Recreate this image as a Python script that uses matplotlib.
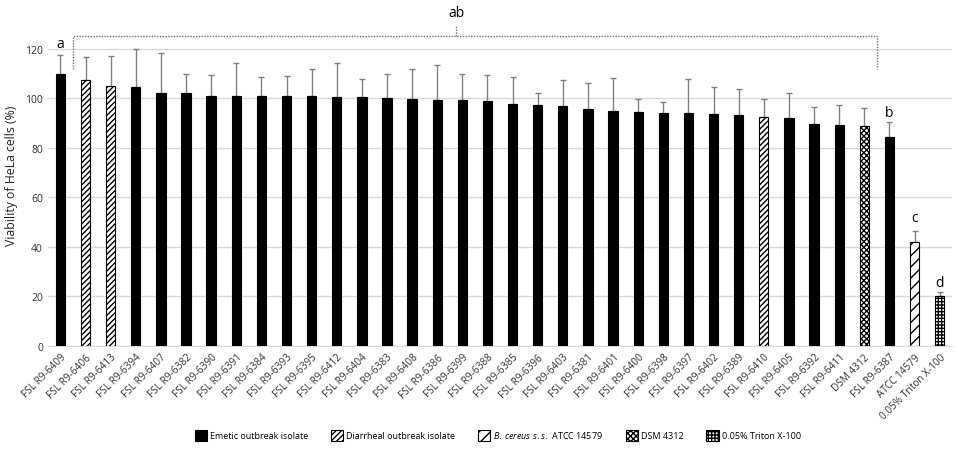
import matplotlib
matplotlib.use("Agg")
import matplotlib.pyplot as plt
import numpy as np
from matplotlib.patches import Patch

plt.rcParams['font.family'] = ['Open Sans', 'DejaVu Sans']
plt.rcParams['mathtext.fontset'] = 'custom'
plt.rcParams['mathtext.it'] = 'Open Sans:italic'
plt.rcParams['hatch.linewidth'] = 1.0

# data
strains = ['FSL R9-6409', 'FSL R9-6406', 'FSL R9-6413', 'FSL R9-6394', 'FSL R9-6407',
           'FSL R9-6382', 'FSL R9-6390', 'FSL R9-6391', 'FSL R9-6384', 'FSL R9-6393',
           'FSL R9-6395', 'FSL R9-6412', 'FSL R9-6404', 'FSL R9-6383', 'FSL R9-6408',
           'FSL R9-6386', 'FSL R9-6399', 'FSL R9-6388', 'FSL R9-6385', 'FSL R9-6396',
           'FSL R9-6403', 'FSL R9-6381', 'FSL R9-6401', 'FSL R9-6400', 'FSL R9-6398',
           'FSL R9-6397', 'FSL R9-6402', 'FSL R9-6389', 'FSL R9-6410', 'FSL R9-6405',
           'FSL R9-6392', 'FSL R9-6411', 'DSM 4312', 'FSL R9-6387', 'ATCC 14579',
           '0.05% Triton X-100']
viability = [109.8, 107.3, 105.0, 104.6, 102.0, 102.0, 101.0, 101.0, 101.0, 101.0,
             100.8, 100.5, 100.5, 100.1, 99.8, 99.2, 99.2, 98.7, 97.7, 97.4,
             96.8, 95.5, 94.9, 94.6, 94.2, 94.2, 93.6, 93.3, 92.6, 92.2,
             89.4, 89.2, 88.6, 84.2, 42.0, 20.3]
err_top = [117.6, 116.5, 117.2, 119.7, 118.1, 109.8, 109.4, 114.0, 108.5, 108.9,
           111.7, 114.2, 107.9, 109.8, 111.7, 113.3, 109.8, 109.3, 108.7, 102.2,
           107.5, 106.1, 108.0, 99.7, 98.6, 107.8, 104.5, 103.6, 99.7, 101.9,
           96.5, 97.1, 96.2, 90.2, 46.3, 21.7]
group = ['E', 'D', 'D', 'E', 'E', 'E', 'E', 'E', 'E', 'E',
         'E', 'E', 'E', 'E', 'E', 'E', 'E', 'E', 'E', 'E',
         'E', 'E', 'E', 'E', 'E', 'E', 'E', 'E', 'D', 'E',
         'E', 'E', 'S', 'E', 'B', 'T']
group_names = {
    'E': 'Emetic outbreak isolate',
    'D': 'Diarrheal outbreak isolate',
    'B': r'$\it{B.\,cereus\ s.s.}$ ATCC 14579',
    'S': 'DSM 4312',
    'T': '0.05% Triton X-100',
}
letters = ['a', 'b', 'c', 'd']
letter_bars = [0, 33, 34, 35]
letter_y = [122.0, 94.3, 51.9, 25.5]

styles = {
    'E': dict(facecolor='black', hatch=None),
    'D': dict(facecolor='white', hatch='//////'),
    'B': dict(facecolor='white', hatch='///'),
    'S': dict(facecolor='white', hatch='xxxxxx'),
    'T': dict(facecolor='white', hatch='+++++'),
}

fig = plt.figure(figsize=(9.57, 4.56), dpi=100)
ax = fig.add_axes([0.050, 0.239, 0.945, 0.75])

x = np.arange(len(strains))
vals = np.array(viability)
up = np.array(err_top) - vals

for g in ['E', 'D', 'B', 'S', 'T']:
    idx = [i for i, k in enumerate(group) if k == g]
    ax.bar(x[idx], vals[idx], width=0.37, edgecolor='black', linewidth=0.8,
           zorder=3, **styles[g])

ax.errorbar(x, vals, yerr=[np.zeros_like(up), up], fmt='none', ecolor='#808080',
            elinewidth=1.0, capsize=2, capthick=1.0, zorder=2)

ax.set_ylim(0, 138)
ax.set_xlim(-0.5, len(strains) - 0.5)
ax.set_yticks(np.arange(0, 121, 20))
ax.yaxis.grid(True, color='#d9d9d9', linewidth=1.0, zorder=0)
ax.set_axisbelow(True)
for s in ['top', 'right', 'left']:
    ax.spines[s].set_visible(False)
ax.spines['bottom'].set_color('#d9d9d9')
ax.tick_params(axis='both', length=0, labelsize=7.5, colors='#333333')
ax.set_xticks(x)
ax.set_xticklabels(strains, rotation=45, ha='right', rotation_mode='anchor', fontsize=7.2)
ax.tick_params(axis='x', pad=4)
ax.set_ylabel('Viability of HeLa cells (%)', fontsize=8.8, color='#222222', labelpad=5)

# significance letters
for lt, i, yy in zip(letters, letter_bars, letter_y):
    ax.text(x[i], yy, lt, ha='center', va='center', fontsize=10)

# dotted bracket for "ab"
bk = dict(color='#707070', linestyle=(0, (1, 1)), linewidth=1.0, clip_on=False)
ax.plot([0.5, 0.5, 32.5, 32.5], [111.7, 125, 125, 111.7], **bk)
ax.plot([15.75, 15.75], [125, 129.5], **bk)
ax.text(15.75, 134.5, 'ab', ha='center', va='center', fontsize=10, clip_on=False)

handles = [Patch(edgecolor='black', linewidth=0.8, label=group_names[g], **styles[g])
           for g in ['E', 'D', 'B', 'S', 'T']]
fig.legend(handles=handles, loc='center', bbox_to_anchor=(0.52, 0.044), ncol=5,
           frameon=False, fontsize=6.5, handlelength=1.4, handleheight=1.4,
           handletextpad=0.3, columnspacing=2.5)

fig.savefig('out.png', dpi=100)
